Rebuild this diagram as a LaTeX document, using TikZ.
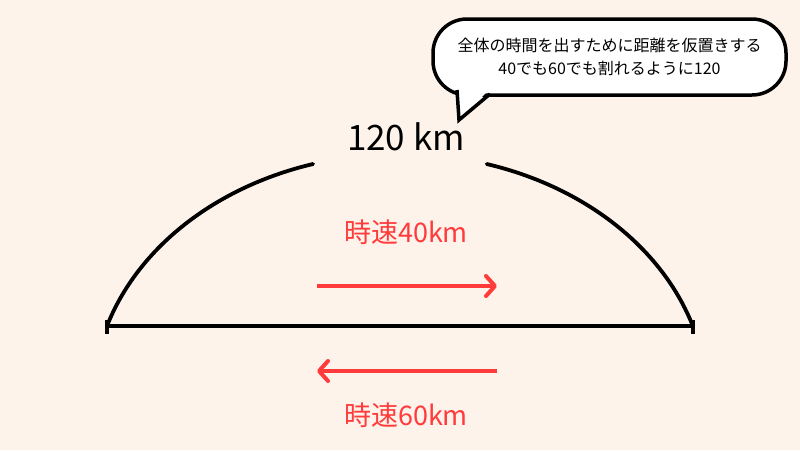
\documentclass[tikz,border=0pt]{standalone}
\usepackage{fontspec}
\setmainfont{Noto Sans CJK JP}
\usetikzlibrary{arrows.meta}
\definecolor{bgpeach}{RGB}{253,243,235}
\definecolor{speedred}{RGB}{255,59,59}
\tikzset{
  road/.style={line width=3.8pt, line cap=round},
  speedarrow/.style={speedred, line width=4pt, -{Straight Barb[length=9pt, width=20pt, round]}},
  speedlabel/.style={text=speedred, font=\fontsize{27}{30}\selectfont},
  bubble/.style={draw, fill=white, line width=3.5pt, rounded corners=34pt,
    minimum width=353pt, minimum height=76pt, align=center,
    font=\fontsize{16}{23}\selectfont}
}

\begin{document}
\begin{tikzpicture}[x=1pt,y=-1pt]
\fill[bgpeach] (0,0) rectangle (800,450); % background
\useasboundingbox (0,0) rectangle (800,450);
\coordinate (A) at (107,326);
\coordinate (B) at (693,326);
\draw[road] (A) -- (B);
\foreach \x in {107,693} % end ticks
\draw[line width=3.5pt] (\x,320) -- (\x,334);
\draw[road] (A) arc[start angle=197.5, end angle=253.6, x radius=307, y radius=246];
\draw[road] (486.7,164) arc[start angle=286.4, end angle=342.5, x radius=307, y radius=246];
\node[font=\fontsize{35}{40}\selectfont] (dist) at (406,137) {120 km};
\node[speedlabel] (v40) at (406,232) {時速40km};
\node[speedlabel] (v60) at (406,415) {時速60km};
\coordinate (r1) at (317,286);
\coordinate (r2) at (497,286);
\coordinate (l1) at (497,371);
\coordinate (l2) at (317,371);
\draw[speedarrow] (r1) -- (r2);
\draw[speedarrow] (l1) -- (l2);
% speech bubble
\node[bubble] (note) at (609.5,57) {全体の時間を出すために距離を仮置きする\\40でも60でも割れるように120};
\fill[white] (457,84) -- (459,119) -- (489,90) -- cycle;
\draw[line width=3.5pt, line join=miter] (457,90) -- (459,120) -- (490,94);
\end{tikzpicture}
\end{document}
